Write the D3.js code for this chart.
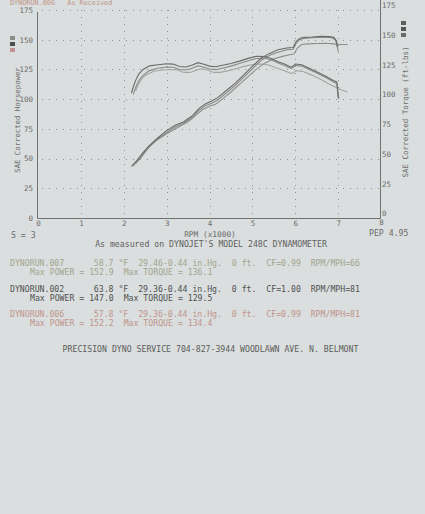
<!DOCTYPE html>
<html><head><meta charset="utf-8">
<script src="https://cdn.jsdelivr.net/npm/d3@7/dist/d3.min.js"></script>
<style>
html,body{margin:0;padding:0;background:#dadede;}
svg{display:block;}
text{font-family:"DejaVu Sans Mono",monospace;white-space:pre;}
</style></head><body>
<svg id="c" width="425" height="514"></svg>
<script>
// ---- data ----
const xTicks = [0,1,2,3,4,5,6,7,8];
const yTicks = [0,25,50,75,100,125,150,175];

// DYNORUN.007 (top curves)
const tqRpm007 = [2.18,2.22,2.28,2.35,2.45,2.6,2.8,3.0,3.15,3.3,3.45,3.6,3.73,3.85,4.0,4.15,4.3,4.5,4.7,4.9,5.1,5.3,5.45,5.6,5.75,5.87,5.92,6.0,6.15,6.3,6.5,6.7,6.9,6.97,7.0];
const tq007    = [105,110,116,121,125,128,129,129.8,129.5,127.5,127,128.8,130.7,129.5,127.8,127.3,128.5,130,132,134.3,136.1,135.8,134,131.5,129.5,127.5,127,129.6,129,126.5,123,119.5,115.5,114.5,101];
const hpRpm007 = [2.18,2.3,2.45,2.6,2.8,3.0,3.2,3.4,3.6,3.75,3.9,4.05,4.2,4.4,4.6,4.8,5.0,5.2,5.4,5.6,5.8,5.95,6.02,6.1,6.2,6.4,6.6,6.8,6.9,6.95,6.98];
const hp007    = [43.5,48,55,61,67.5,73.5,78,81,86,92,96,98.5,101.5,107.5,113.5,120.5,127.5,134.5,138.5,141.5,143,143.5,148.5,151,152,152.3,152.9,152.6,152,149.5,144];

// DYNORUN.006 (middle curves)
const tqRpm006 = [2.22,2.28,2.35,2.45,2.6,2.8,3.0,3.15,3.3,3.45,3.6,3.73,3.85,4.0,4.15,4.3,4.5,4.7,4.9,5.1,5.3,5.45,5.6,5.75,5.87,5.92,6.0,6.15,6.3,6.5,6.7,6.9,6.97,7.02];
const tq006    = [104,110,115.5,120,124,126,127,126.8,125,124.5,126,128,127,125.3,124.8,126,127.8,130,132.3,134.2,134.4,133,130.5,128.3,126.3,125.8,128.3,127.8,125.3,122,118.5,114.5,113,100];
const hpRpm006 = [2.22,2.3,2.45,2.6,2.8,3.0,3.2,3.4,3.6,3.75,3.9,4.05,4.2,4.4,4.6,4.8,5.0,5.2,5.4,5.6,5.8,5.95,6.02,6.1,6.2,6.4,6.6,6.8,6.9,6.97,7.0];
const hp006    = [43.5,47.5,54,60,66.5,72,76.5,80,84.5,90.5,94.5,96.5,99.5,105.5,111.5,118.5,125.5,132.5,137,139.5,141.5,142,147,150,151,151.7,152.2,151.8,151,148,140];

// DYNORUN.002 (lower curves)
const tqRpm002 = [2.28,2.32,2.38,2.45,2.55,2.7,2.9,3.1,3.25,3.4,3.55,3.7,3.82,3.95,4.1,4.25,4.45,4.65,4.85,5.05,5.25,5.4,5.55,5.7,5.85,5.93,6.02,6.2,6.4,6.6,6.8,7.0,7.1,7.22];
const tq002    = [107,111,115,118.5,121,123.5,124.5,125,124.5,122.5,122.5,124.5,125.5,124.5,122.5,122.5,124,126,128,129.3,129.5,128.5,126.5,124.5,122.5,121.5,124,123,120,116.5,112.5,109,107.5,106];
const hpRpm002 = [2.28,2.4,2.55,2.7,2.9,3.1,3.3,3.5,3.7,3.85,4.0,4.15,4.3,4.5,4.7,4.9,5.1,5.3,5.5,5.7,5.9,5.97,6.05,6.15,6.3,6.5,6.7,6.9,7.0,7.22];
const hp002    = [46,50.5,58,64,68.5,73,77,81,87,91.5,94,96,100,106,112.5,119,125.5,130.5,134,136,137.5,138,143,146,146.5,146.8,147,146.5,146,146];

const runNames = ["DYNORUN.007","DYNORUN.002","DYNORUN.006"];
const runInfo  = ["58.7 °F  29.46-0.44 in.Hg.  0 ft.  CF=0.99  RPM/MPH=66",
                  "63.8 °F  29.36-0.44 in.Hg.  0 ft.  CF=1.00  RPM/MPH=81",
                  "57.8 °F  29.36-0.44 in.Hg.  0 ft.  CF=0.99  RPM/MPH=81"];
const maxPower  = ["152.9","147.0","152.2"];
const maxTorque = ["136.1","129.5","134.4"];

// ---- drawing ----
const svg = d3.select("#c");
const x = d3.scaleLinear().domain([0,8]).range([38,381]);
const y = d3.scaleLinear().domain([0,175]).range([218,10]);
const axisCol = "#707272", textCol = "#6a6c6c";

// gridlines
const grid = svg.append("g").attr("stroke","#8d9090").attr("stroke-width",1).attr("stroke-dasharray","1,6");
grid.selectAll("line.v").data(xTicks.filter(d=>d>0&&d<8)).join("line")
  .attr("x1",d=>Math.round(x(d))+0.5).attr("x2",d=>Math.round(x(d))+0.5)
  .attr("y1",y(175)).attr("y2",y(0)-1);
grid.selectAll("line.h").data(yTicks.filter(d=>d>0)).join("line")
  .attr("y1",d=>Math.round(y(d))+0.5).attr("y2",d=>Math.round(y(d))+0.5)
  .attr("x1",x(0)+4).attr("x2",x(8)-2);

// axis frame
svg.append("line").attr("x1",37.5).attr("x2",37.5).attr("y1",y(175)+2).attr("y2",218.5).attr("stroke",axisCol);
svg.append("line").attr("x1",380.5).attr("x2",380.5).attr("y1",0).attr("y2",218.5).attr("stroke",axisCol);
svg.append("line").attr("x1",37.5).attr("x2",380.5).attr("y1",218.5).attr("y2",218.5).attr("stroke",axisCol);

// axes labels via d3 axes
function styleAxis(g){ g.select(".domain").remove(); g.selectAll("text").attr("fill",textCol).attr("font-family","DejaVu Sans Mono").attr("font-size","7.5px"); }
svg.append("g").attr("transform","translate(37,0)")
  .call(d3.axisLeft(y).tickValues(yTicks).tickSize(0).tickPadding(4)).call(styleAxis);
svg.append("g").attr("transform","translate(381,0)")
  .call(d3.axisRight(y).tickValues(yTicks).tickSize(0).tickPadding(1)).call(styleAxis)
  .selectAll("text").attr("dy","-0.3em");
const xa = svg.append("g").attr("transform","translate(0,218)")
  .call(d3.axisBottom(x).tickValues(xTicks).tickSize(0).tickPadding(3)).call(styleAxis);
xa.selectAll(".tick").filter(d=>d===8).select("text").attr("dy","0.55em");

// axis titles
svg.append("text").attr("transform","translate(20,120) rotate(-90)").attr("text-anchor","middle")
  .attr("font-size","7.3px").attr("fill",textCol).text("SAE Corrected Horsepower");
svg.append("text").attr("transform","translate(408,112) rotate(-90)").attr("text-anchor","middle")
  .attr("font-size","7.5px").attr("fill",textCol).text("SAE Corrected Torque (ft-lbs)");

// legend swatches
const swL = ["#8a8e86","#4e5050","#c49292"];
svg.selectAll("rect.sl").data(swL).join("rect").attr("x",10).attr("y",(d,i)=>36+i*6).attr("width",5).attr("height",4).attr("fill",d=>d);
const swR = ["#5e6060","#555757","#6a6c6c"];
svg.selectAll("rect.sr").data(swR).join("rect").attr("x",401).attr("y",(d,i)=>21+i*6).attr("width",5).attr("height",4).attr("fill",d=>d);

// curves
const line = d3.line().x(d=>x(d[0])).y(d=>y(d[1])).curve(d3.curveLinear);
const zip = (a,b)=>a.map((v,i)=>[v,b[i]]);
const curves = [
  {r:tqRpm002,v:tq002,c:"#a2a6a2"},{r:hpRpm002,v:hp002,c:"#8c908c"},
  {r:tqRpm006,v:tq006,c:"#8e8886"},{r:hpRpm006,v:hp006,c:"#8e8886"},
  {r:tqRpm007,v:tq007,c:"#6a6c6a"},{r:hpRpm007,v:hp007,c:"#6a6c6a"}
];
svg.append("g").selectAll("path").data(curves).join("path")
  .attr("d",d=>line(zip(d.r,d.v))).attr("fill","none").attr("stroke",d=>d.c).attr("stroke-width",1.1);

// top header (partly faded in scan)
svg.append("text").attr("x",10).attr("y",5).attr("font-size","6.8px").attr("fill","#c09488").text("DYNORUN.006   As Received");

// bottom labels
svg.append("text").attr("x",210).attr("y",236.5).attr("text-anchor","middle").attr("font-size","7.8px").attr("fill",textCol).text("RPM (x1000)");
svg.append("text").attr("x",11).attr("y",238).attr("font-size","8.2px").attr("fill",textCol).text("S = 3");
svg.append("text").attr("x",369).attr("y",236).attr("font-size","8.2px").attr("fill",textCol).text("PEP 4.95");
svg.append("text").attr("x",211).attr("y",246.5).attr("text-anchor","middle").attr("font-size","8.2px").attr("fill","#5e6060").text("As measured on DYNOJET'S MODEL 248C DYNAMOMETER");

// run info
const runCols = ["#a3a48e","#4f5151","#c0948c"];
const rowY = [265.5, 292, 317];
runNames.forEach((n,i)=>{
  svg.append("text").attr("x",10).attr("y",rowY[i]).attr("font-size","8.2px").attr("fill",runCols[i])
    .text(n.padEnd(17," ") + runInfo[i]);
  svg.append("text").attr("x",30).attr("y",rowY[i]+9).attr("font-size","8.2px").attr("fill",runCols[i])
    .text("Max POWER = " + maxPower[i] + "  Max TORQUE = " + maxTorque[i]);
});

svg.append("text").attr("x",210.5).attr("y",352).attr("text-anchor","middle").attr("font-size","8.2px").attr("fill","#5a5c5c")
  .text("PRECISION DYNO SERVICE 704-827-3944 WOODLAWN AVE. N. BELMONT");
</script></body></html>
